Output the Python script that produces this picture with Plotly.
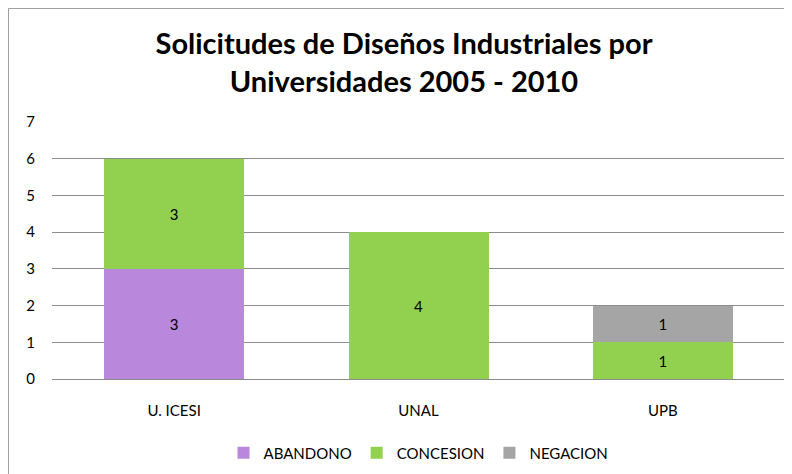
import plotly.graph_objects as go

universidades = ["U. ICESI", "UNAL", "UPB"]
abandono = [3, None, None]
concesion = [3, 4, 1]
negacion = [None, None, 1]
y_ticks = [0, 1, 2, 3, 4, 5, 6, 7]

FONT = "Lato"
fig = go.Figure()
series = [("ABANDONO", abandono, "#B987DC"),
          ("CONCESION", concesion, "#92D050"),
          ("NEGACION", negacion, "#A5A5A5")]
for name, vals, col in series:
    fig.add_trace(go.Bar(
        x=universidades, y=vals, name=name, marker=dict(color=col, line=dict(width=0)),
        text=[str(v) if v else "" for v in vals], textposition="inside",
        insidetextanchor="middle", textfont=dict(size=15, color="#000000", family=FONT),
    ))

L, R, T, B = 44, 15, 114, 103
W, H = 792, 474
pw, ph = W - L - R, H - T - B

fig.update_layout(
    barmode="stack", bargap=0.427,
    width=W, height=H,
    margin=dict(l=L, r=R, t=T, b=B, autoexpand=False),
    paper_bgcolor="white", plot_bgcolor="white",
    title=dict(text="<b>Solicitudes de Diseños Industriales por<br>Universidades 2005 - 2010</b>",
               x=0.5, xanchor="center", y=1 - 46 / H, yanchor="middle",
               font=dict(family=FONT, size=29, color="#000000")),
    font=dict(family=FONT, size=15, color="#000000"),
    legend=dict(orientation="h", x=0.5, xanchor="center", y=-74 / ph, yanchor="middle",
                font=dict(size=15, color="#000000"), traceorder="normal",
                itemwidth=30),
    showlegend=True,
)
fig.update_yaxes(range=[0, 7], tickvals=y_ticks, showgrid=True, gridcolor="#8C8C8C",
                 gridwidth=1, zeroline=False, showline=False, ticks="",
                 ticklabelstandoff=16, tickfont=dict(size=15, color="#000000"))
fig.update_xaxes(showline=True, linecolor="#8C8C8C", linewidth=1, ticks="",
                 tickfont=dict(size=15, color="#000000"), ticklabelstandoff=18)

fig.add_shape(type="rect", xref="paper", yref="paper",
              x0=-L / pw, x1=1.2, y0=-0.6, y1=1 + T / ph,
              line=dict(color="#A0A0A0", width=2), fillcolor="rgba(0,0,0,0)", layer="below")

fig.write_html("out.html")
